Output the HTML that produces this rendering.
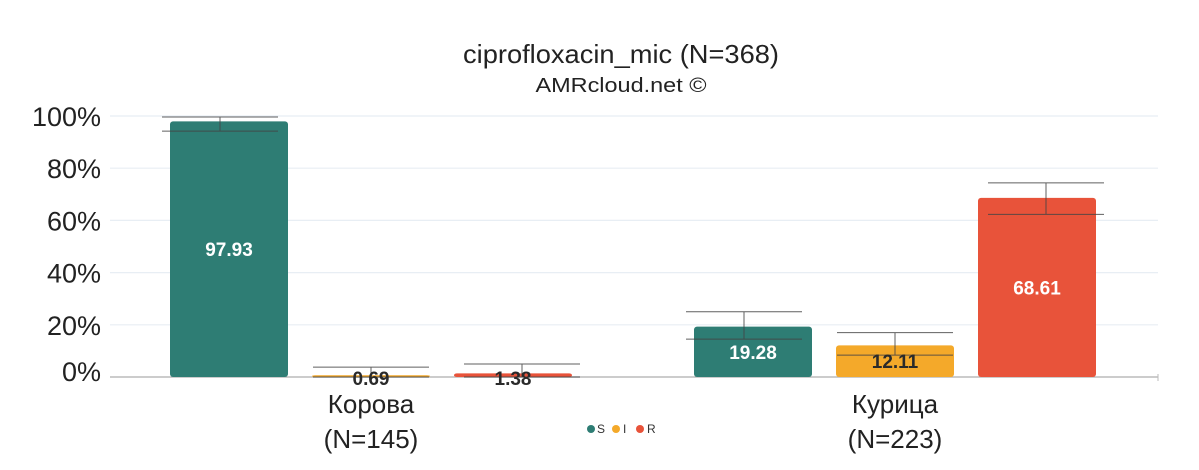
<!DOCTYPE html>
<html><head><meta charset="utf-8"><style>
html,body{margin:0;padding:0;background:#fff;}
svg{display:block;font-family:"Liberation Sans",sans-serif;}
</style></head><body>
<svg id="chart" width="1199" height="470" viewBox="0 0 1199 470" xmlns="http://www.w3.org/2000/svg">
<text x="621" y="63" text-anchor="middle" font-size="26" fill="#222" textLength="316" lengthAdjust="spacingAndGlyphs">ciprofloxacin_mic (N=368)</text>
<text x="621" y="92" text-anchor="middle" font-size="20" fill="#222" textLength="171" lengthAdjust="spacingAndGlyphs">AMRcloud.net ©</text>
<g id="grid"></g><g id="bars"></g><g id="errs"></g><g id="labels"></g>
<g>
<circle cx="591" cy="429" r="4" fill="#2e7d74"/><text x="597" y="433" font-size="12" fill="#333">S</text>
<circle cx="616" cy="429" r="4" fill="#f4a92a"/><text x="623" y="433" font-size="12" fill="#333">I</text>
<circle cx="640" cy="429" r="4" fill="#e8533a"/><text x="647" y="433" font-size="12" fill="#333">R</text>
</g>
</svg>
<script>
const categories=["Корова","Курица"];
const catN=["(N=145)","(N=223)"];
const seriesNames=["S","I","R"];
const valS=[97.93,19.28];
const valI=[0.69,12.11];
const valR=[1.38,68.61];
const errLowS=[94.2,14.5], errHighS=[99.6,25.0];
const errLowI=[0.0,8.4], errHighI=[3.8,17.0];
const errLowR=[0.0,62.3], errHighR=[5.0,74.4];
const yTicks=[0,20,40,60,80,100];

const NS="http://www.w3.org/2000/svg";
const colors=["#2e7d74","#f4a92a","#e8533a"];
const y0=377,pxPer=2.61,left=110,right=1158;
const y=v=>y0-v*pxPer;
const groupCenter=i=>371+524*i;
const barX=(g,s)=>groupCenter(g)-59+(s-1)*142;
function mk(tag,attrs,parent){const e=document.createElementNS(NS,tag);for(const k in attrs)e.setAttribute(k,attrs[k]);parent.appendChild(e);return e;}
const grid=document.getElementById('grid'),bars=document.getElementById('bars'),errs=document.getElementById('errs'),labels=document.getElementById('labels');
yTicks.forEach(t=>{
  const l=mk('line',{x1:left,x2:right,y1:y(t),y2:y(t),stroke:t===0?'#bbb':'#e8eef4','stroke-width':t===0?1.5:1.2},grid);
  
  
  const tx=mk('text',{x:101,y:y(t)+10-(t===0?6:0),'text-anchor':'end','font-size':27,fill:'#222'},grid);
  tx.textContent=t+'%';
  
  
});
mk('line',{x1:1158,x2:1158,y1:374,y2:381,stroke:'#bbb'},grid);
const vals=[valS,valI,valR],lo=[errLowS,errLowI,errLowR],hi=[errHighS,errHighI,errHighR];
categories.forEach((c,g)=>{
  seriesNames.forEach((s,si)=>{
    const v=vals[si][g],x=barX(g,si);
    const h=Math.max(v*pxPer,1.5);
    const r=mk('rect',{x:x,y:y0-h,width:118,height:h,rx:3,fill:colors[si]},bars);
    
    
    const ec=x+59+(si-1)*9;
    const eg=mk('g',{stroke:'#444','stroke-width':1,opacity:0.85},errs);
    
    
    mk('line',{x1:ec,x2:ec,y1:y(hi[si][g]),y2:y(lo[si][g])},eg);
    mk('line',{x1:ec-58,x2:ec+58,y1:y(hi[si][g]),y2:y(hi[si][g])},eg);
    mk('line',{x1:ec-58,x2:ec+58,y1:y(lo[si][g]),y2:y(lo[si][g])},eg);
    const small=v<5;
    const ly=small?y0+8:(y0-v*pxPer/2+7);
    const t=mk('text',{x:x+59,y:ly,'text-anchor':'middle','font-size':19,'font-weight':'bold',fill:(si===1||small)?'#2a2a2a':'#fff'},labels);
    t.textContent=v.toFixed(2);
    
    
  });
  const t1=mk('text',{x:groupCenter(g),y:413,'text-anchor':'middle','font-size':26,fill:'#222'},labels);
  t1.textContent=c;
  
  
  const t2=mk('text',{x:groupCenter(g),y:448,'text-anchor':'middle','font-size':26,fill:'#222'},labels);
  t2.textContent=catN[g];
  
  
});
</script>
</body></html>
